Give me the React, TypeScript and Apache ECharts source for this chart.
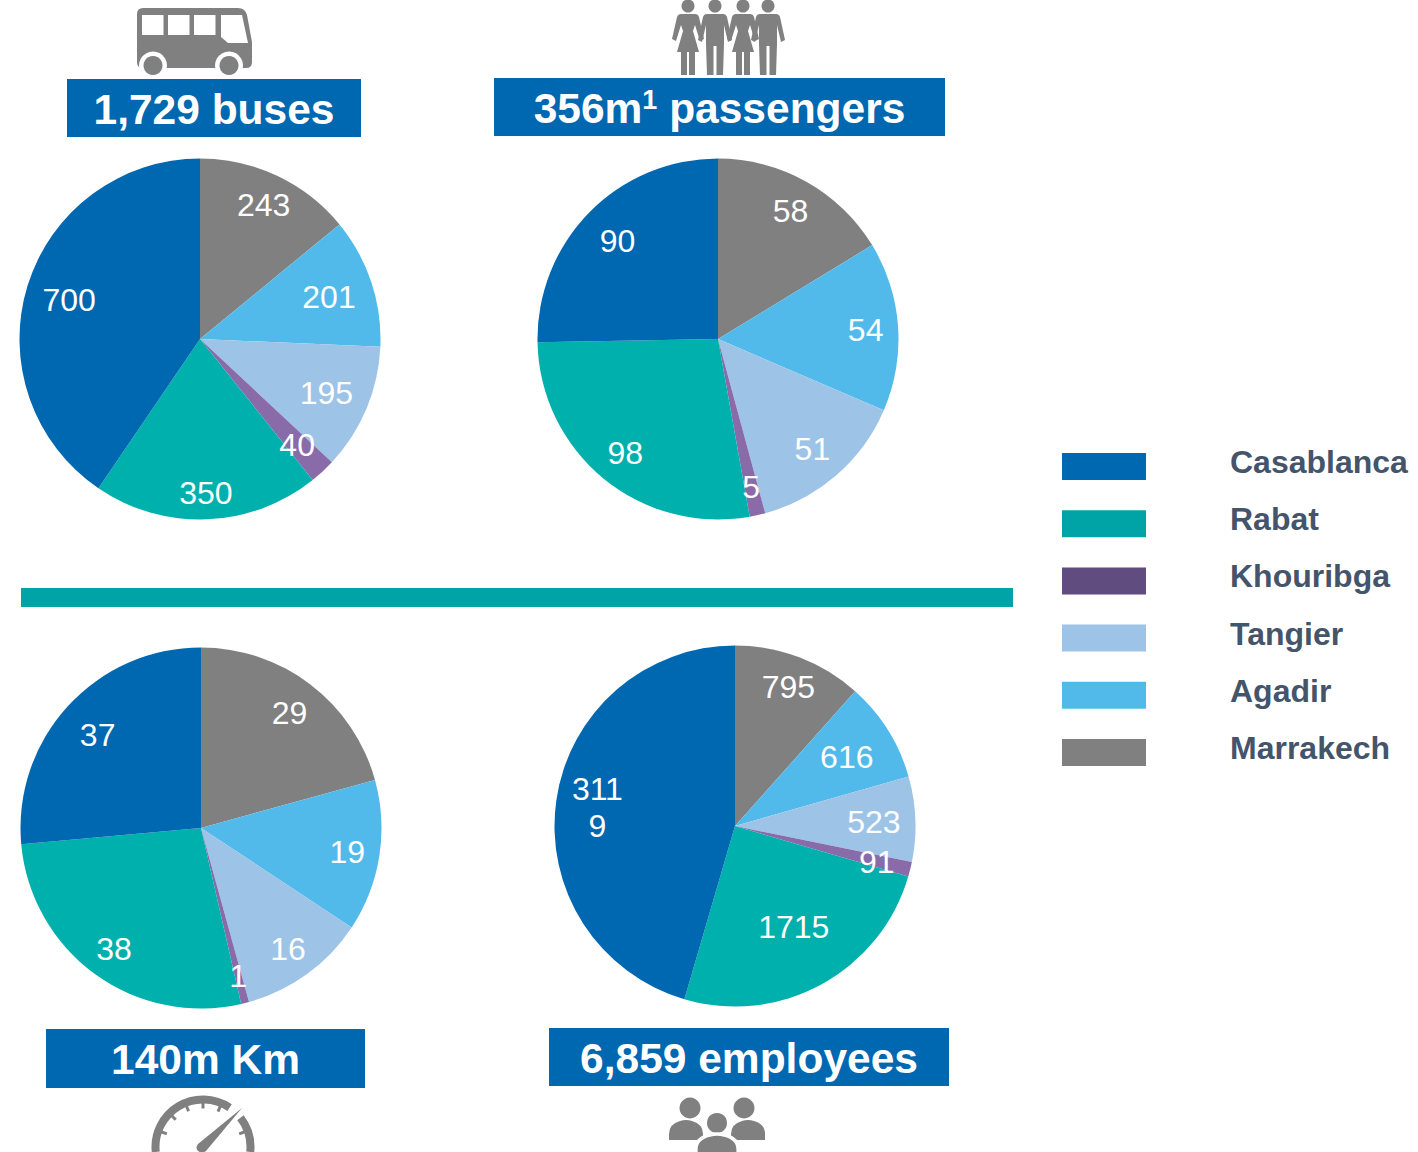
import React, { useEffect, useRef } from "react";
import * as echarts from "echarts";

const cities = ["Marrakech", "Agadir", "Tangier", "Khouribga", "Rabat", "Casablanca"];
const legendOrder = ["Casablanca", "Rabat", "Khouribga", "Tangier", "Agadir", "Marrakech"];
const buses = [243, 201, 195, 40, 350, 700];
const passengers = [58, 54, 51, 5, 98, 90];
const kilometres = [29, 19, 16, 1, 38, 37];
const employees = [795, 616, 523, 91, 1715, 3119];
const wrappedLabels: Record<number, string> = { 3119: "311\n9" };

const sliceColors: Record<string, string> = {
  Casablanca: "#0067B1", Rabat: "#00B0AC", Khouribga: "#8A6BAA",
  Tangier: "#9DC3E6", Agadir: "#51BAEB", Marrakech: "#808080",
};
const legendColors: Record<string, string> = { ...sliceColors, Rabat: "#00A4A6", Khouribga: "#604C7F" };

const FONT = "Liberation Sans";
const BLUE = "#0067B1";
const GREY = "#808080";
const R = 180.5;

const pies = [
  { id: "buses", values: buses, cx: 200, cy: 339, radii: [149, 136, 137, 143, 153, 137], shift: [0, 0] },
  { id: "passengers", values: passengers, cx: 718, cy: 339, radii: [148, 148, 144, 151, 146, 141], shift: [0, 0] },
  { id: "km", values: kilometres, cx: 201, cy: 828, radii: [146, 148, 148, 152, 148, 140], shift: [0, 0] },
  { id: "employees", values: employees, cx: 735, cy: 826, radii: [150, 132, 139, 146, 114, 139], shift: [4, 4] },
];

const headers = [
  { x: 67, y: 79, w: 294, h: 58, text: "1,729 buses" },
  { x: 494, y: 78, w: 451, h: 58, text: "356m{sup|1} passengers" },
  { x: 46, y: 1029, w: 319, h: 59, text: "140m Km" },
  { x: 549, y: 1028, w: 400, h: 58, text: "6,859 employees" },
];

echarts.graphic.registerShape("busBody", echarts.graphic.extendPath(
  "M143 8 H238 Q245 8 247 15 L252 42 V62 Q252 68 246 68 H143 Q137 68 137 62 V14 Q137 8 143 8 Z", {}));
echarts.graphic.registerShape("woman", echarts.graphic.extendPath(
  "M-7 14 H7 Q10 14 11 17 L16 39 L12 41 L7 25 L5 31 L11 52 H7 V75 H1 V52 H-1 V75 H-7 V52 H-11 L-5 31 L-7 25 L-12 41 L-16 39 L-11 17 Q-10 14 -7 14 Z", {}));
echarts.graphic.registerShape("man", echarts.graphic.extendPath(
  "M-8 14 H8 Q11 14 12 17 L17 40 L13 42 L9 25 V44 L8 75 H1.5 V46 H-1.5 V75 H-8 L-9 44 V25 L-13 42 L-17 40 L-12 17 Q-11 14 -8 14 Z", {}));
echarts.graphic.registerShape("shoulders", echarts.graphic.extendPath(
  "M-17 20 V14 Q-17 4 -6 1 Q0 -1 6 1 Q17 4 17 14 V20 Z", {}));
echarts.graphic.registerShape("needle", echarts.graphic.extendPath(
  "M242 1108 L206 1151 Q202 1154 198 1151 Q195 1148 198 1144 Z", {}));

function busIcon() {
  const fill = { fill: GREY };
  const white = { fill: "#fff" };
  return [
    { type: "busBody", style: fill },
    ...[142, 168, 194].map((x) => ({ type: "rect", shape: { x, y: 15, width: 21.5, height: 20 }, style: white })),
    { type: "polygon", shape: { points: [[221, 15], [242, 15], [248, 43], [228, 43], [221, 37]] }, style: white },
    ...[153, 229].flatMap((cx) => [
      { type: "circle", shape: { cx, cy: 65.5, r: 14 }, style: white },
      { type: "circle", shape: { cx, cy: 65.5, r: 9.5 }, style: fill },
    ]),
  ];
}

function peopleIcon() {
  const figures: [string, number][] = [["woman", 688], ["man", 715], ["woman", 743], ["man", 768]];
  return figures.flatMap(([type, x]) => [
    { type: "circle", shape: { cx: x, cy: 6, r: 6.5 }, style: { fill: GREY } },
    { type, x, y: 0, style: { fill: GREY } },
  ]);
}

function gaugeIcon() {
  const cx = 203, cy = 1147, r = 47.5;
  const stroke = { stroke: GREY, lineWidth: 8, fill: "none" };
  const rad = (deg: number) => (deg * Math.PI) / 180;
  const ticks = [-160, -135, -112, -90, -67, -20];
  return [
    { type: "arc", shape: { cx, cy, r, startAngle: rad(-186), endAngle: rad(-56), clockwise: true }, style: stroke },
    { type: "arc", shape: { cx, cy, r, startAngle: rad(-38), endAngle: rad(6), clockwise: true }, style: stroke },
    ...ticks.map((a) => ({
      type: "line",
      shape: {
        x1: cx + r * Math.cos(rad(a)), y1: cy + r * Math.sin(rad(a)),
        x2: cx + (r - 9) * Math.cos(rad(a)), y2: cy + (r - 9) * Math.sin(rad(a)),
      },
      style: { stroke: GREY, lineWidth: 3 },
    })),
    { type: "needle", style: { fill: GREY } },
  ];
}

function teamIcon() {
  const fill = { fill: GREY };
  return [
    { type: "circle", shape: { cx: 690, cy: 1108, r: 10.5 }, style: fill },
    { type: "circle", shape: { cx: 744, cy: 1108, r: 10.5 }, style: fill },
    { type: "shoulders", x: 686, y: 1120, style: fill },
    { type: "shoulders", x: 748, y: 1120, style: fill },
    { type: "circle", shape: { cx: 717, cy: 1123, r: 11.5 }, style: { fill: GREY, stroke: "#fff", lineWidth: 3 } },
    { type: "shoulders", x: 717, y: 1134, scaleX: 1.25, scaleY: 1.1, style: { fill: GREY, stroke: "#fff", lineWidth: 3 } },
  ];
}

export default function App() {
  const ref = useRef<HTMLDivElement>(null);
  useEffect(() => {
    document.body.style.margin = "0";
    const chart = echarts.init(ref.current!, null, { renderer: "svg" });
    const series = pies.map((p) => {
      const total = p.values.reduce((a, b) => a + b, 0);
      let acc = 0;
      const mids = p.values.map((v) => {
        const mid = ((acc + v / 2) / total) * 2 * Math.PI;
        acc += v;
        return mid;
      });
      return {
        type: "pie",
        name: p.id,
        center: [p.cx, p.cy],
        radius: [0, R],
        startAngle: 90,
        clockwise: true,
        silent: true,
        avoidLabelOverlap: false,
        data: p.values.map((value, i) => ({
          name: cities[i], value, itemStyle: { color: sliceColors[cities[i]] },
        })),
        label: {
          show: true, position: "inside", color: "#fff", fontFamily: FONT, fontSize: 32, lineHeight: 37,
          formatter: (d: any) => wrappedLabels[d.value] ?? String(d.value),
        },
        labelLine: { show: false },
        labelLayout: (params: any) => {
          const i = params.dataIndex;
          const shifted = i === p.shift[0];
          return {
            x: p.cx + p.radii[i] * Math.sin(mids[i]) + (shifted ? p.shift[1] : 0),
            y: p.cy - p.radii[i] * Math.cos(mids[i]) + 1,
            align: "center",
            verticalAlign: "middle",
          };
        },
      };
    });
    const graphic = [
      ...busIcon(), ...peopleIcon(), ...gaugeIcon(), ...teamIcon(),
      { type: "rect", shape: { x: 21, y: 588, width: 992, height: 19 }, style: { fill: "#00A4A6" } },
      ...headers.flatMap((h) => [
        { type: "rect", shape: { x: h.x, y: h.y, width: h.w, height: h.h }, style: { fill: BLUE } },
        {
          type: "text", x: h.x + h.w / 2, y: h.y + h.h / 2 + 1,
          style: {
            text: h.text, fill: "#fff", font: `bold 42.5px ${FONT}`, align: "center", verticalAlign: "middle",
            rich: { sup: { fontSize: 27, fontWeight: "bold", fontFamily: FONT, fill: "#fff", verticalAlign: "top", padding: [0, 0, 12, 0] } },
          },
        },
      ]),
    ];
    chart.setOption({
      animation: false,
      backgroundColor: "#fff",
      legend: {
        orient: "vertical", left: 1062, top: 446, padding: 0,
        itemWidth: 84, itemHeight: 27, itemGap: 21.2, icon: "rect", selectedMode: false,
        data: legendOrder.map((name) => ({ name, itemStyle: { color: legendColors[name] } })),
        formatter: (name: string) => `{t|${name}}\n{g| }`,
        textStyle: {
          color: "#44546A", fontFamily: FONT, fontWeight: "bold", fontSize: 32, padding: [0, 0, 0, 79],
          rich: {
            t: { color: "#44546A", fontFamily: FONT, fontWeight: "bold", fontSize: 32, lineHeight: 27 },
            g: { fontSize: 4, lineHeight: 9 },
          },
        },
      },
      series,
      graphic,
    });
    return () => chart.dispose();
  }, []);
  return <div ref={ref} style={{ width: 1418, height: 1152 }} />;
}
